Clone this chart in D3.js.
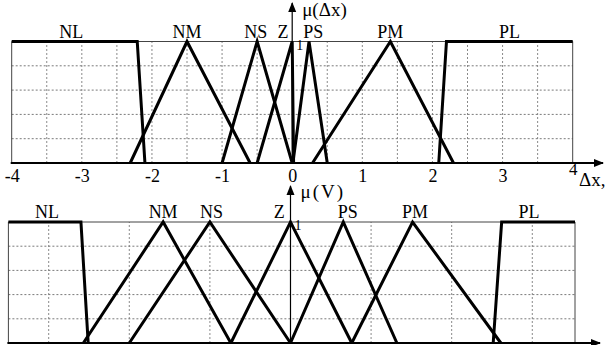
<!DOCTYPE html>
<html>
<head>
<meta charset="utf-8">
<script src="https://cdn.jsdelivr.net/npm/d3@7"></script>
<style>
  body { margin: 0; background: #fff; }
  svg text { font-family: "Times New Roman", "Liberation Serif", Tinos, "DejaVu Serif", "Noto Serif", FreeSerif, serif !important; fill: #000; }
</style>
</head>
<body>
<div id="chart"></div>
<script>
// term names (same for both variables)
var terms = ["NL", "NM", "NS", "Z", "PS", "PM", "PL"];

// membership functions of dx : [x, mu] corners
var dxSets = [
  [[-4, 1], [-2.21, 1], [-2.1, 0]],
  [[-2.31, 0], [-1.5, 1], [-0.6, 0]],
  [[-1.0, 0], [-0.5, 1], [0, 0]],
  [[-0.5, 0], [0, 1], [0.02, 0]],
  [[0.01, 0], [0.24, 1], [0.5, 0]],
  [[0.29, 0], [1.4, 1], [2.3, 0]],
  [[2.09, 0], [2.2, 1], [4, 1]]
];
// where each term name sits over the dx chart
var dxLabelAt = [-3.15, -1.5, -0.52, -0.13, 0.3, 1.4, 3.1];
var dxTicks = [-4, -3, -2, -1, 0, 1, 2, 3, 4];

// membership functions of V
var vSets = [
  [[-3.5, 1], [-2.6, 1], [-2.51, 0]],
  [[-2.57, 0], [-1.58, 1], [-0.74, 0]],
  [[-2.0, 0], [-1.0, 1], [0, 0]],
  [[-0.74, 0], [0, 1], [0.76, 0]],
  [[0, 0], [0.655, 1], [1.32, 0]],
  [[0.76, 0], [1.515, 1], [2.61, 0]],
  [[2.515, 0], [2.62, 1], [3.53, 1]]
];
var vLabelAt = [-3.02, -1.58, -0.98, -0.14, 0.71, 1.545, 2.96];

var svgWidth = 609;
var svgHeight = 345;
var serif = "'Times New Roman', 'Liberation Serif', Tinos, 'DejaVu Serif', serif";

var svg = d3.select("#chart")
  .append("svg")
  .attr("width", svgWidth)
  .attr("height", svgHeight)
  .attr("font-family", serif);

var defs = svg.append("defs");
defs.append("marker")
  .attr("id", "arrow")
  .attr("viewBox", "0 0 10 10")
  .attr("refX", 9).attr("refY", 5)
  .attr("markerWidth", 10).attr("markerHeight", 10)
  .attr("markerUnits", "userSpaceOnUse")
  .attr("orient", "auto")
  .append("path")
  .attr("d", "M0,1 L10,5 L0,9 Z")
  .attr("fill", "#000");

// draws one membership panel
function panel(opt) {
  var x = opt.x, y = opt.y;
  var g = svg.append("g");
  var x0 = x.range()[0], x1 = x.range()[1];

  // dotted grid
  g.append("g").selectAll("line")
    .data(opt.vgrid)
    .enter().append("line")
    .attr("x1", d => x(d)).attr("x2", d => x(d))
    .attr("y1", y(0)).attr("y2", y(1))
    .attr("stroke", "#8a8a8a").attr("stroke-width", 1)
    .attr("stroke-dasharray", "2,2");
  g.append("g").selectAll("line")
    .data([0.2, 0.4, 0.6, 0.8])
    .enter().append("line")
    .attr("x1", x0).attr("x2", x1)
    .attr("y1", d => y(d)).attr("y2", d => y(d))
    .attr("stroke", "#7a7a7a").attr("stroke-width", 1)
    .attr("stroke-dasharray", "2,2");

  // frame
  g.append("line").attr("x1", x0).attr("x2", x1).attr("y1", y(1)).attr("y2", y(1))
    .attr("stroke", "#444").attr("stroke-width", 1);
  g.append("line").attr("x1", x0).attr("x2", x0).attr("y1", y(1)).attr("y2", y(0))
    .attr("stroke", "#444").attr("stroke-width", 1);
  g.append("line").attr("x1", x1).attr("x2", x1).attr("y1", y(1)).attr("y2", y(0))
    .attr("stroke", "#444").attr("stroke-width", 1);

  // axes with arrows
  g.append("line").attr("x1", x0 - 1).attr("x2", opt.arrowX).attr("y1", y(0)).attr("y2", y(0))
    .attr("stroke", "#000").attr("stroke-width", 2).attr("marker-end", "url(#arrow)");
  g.append("line").attr("x1", x(0)).attr("x2", x(0)).attr("y1", y(0)).attr("y2", opt.arrowY)
    .attr("stroke", "#000").attr("stroke-width", 1.2).attr("marker-end", "url(#arrow)");

  // membership functions
  var line = d3.line().x(d => x(d[0])).y(d => y(d[1]));
  g.append("g").selectAll("path")
    .data(opt.sets)
    .enter().append("path")
    .attr("d", line)
    .attr("fill", "none")
    .attr("stroke", "#000")
    .attr("stroke-width", 3)
    .attr("stroke-linejoin", "miter");

  // term names
  g.append("g").selectAll("text")
    .data(terms)
    .enter().append("text")
    .attr("x", (d, i) => x(opt.labelAt[i]))
    .attr("y", y(1) - 4)
    .attr("text-anchor", "middle")
    .attr("font-size", "18px")
    .text(d => d);

  // "1" next to axis
  g.append("text")
    .attr("x", x(0) + 4).attr("y", y(1) + 8)
    .attr("font-size", "14px")
    .text("1");

  // axis title
  g.append("text")
    .attr("x", x(0) + 10).attr("y", opt.titleY)
    .attr("font-size", "19px")
    .attr("letter-spacing", opt.spacing)
    .text(opt.title);
  return g;
}

var xTop = d3.scaleLinear().domain([-4, 4]).range([11.7, 572.7]);
var yTop = d3.scaleLinear().domain([0, 1]).range([163, 41.5]);

panel({
  x: xTop, y: yTop, sets: dxSets, labelAt: dxLabelAt,
  vgrid: d3.range(-3.5, 4, 0.5).filter(d => d !== 0),
  arrowX: 603, arrowY: 3,
  title: "μ(Δx)", titleY: 16, spacing: "0px"
});

// dx tick labels
var bottomAxis = d3.axisBottom(xTop).tickValues(dxTicks).tickSize(0).tickPadding(6);
var axG = svg.append("g")
  .attr("transform", `translate(0, ${yTop(0)})`)
  .call(bottomAxis)
  .attr("font-family", serif);
axG.select(".domain").remove();
axG.selectAll("text")
  .attr("font-size", "18px")
  .attr("fill", "#000")
  .text(d => d < 0 ? "-" + Math.abs(d) : d);
axG.selectAll(".tick").filter(d => d === 4).select("text")
  .attr("dy", "0.35em")
  .attr("font-size", "17px");

svg.append("text")
  .attr("x", 579).attr("y", 186)
  .attr("font-size", "19px")
  .text("Δx,");

var xBot = d3.scaleLinear().domain([-3.5, 3.53]).range([8.4, 575]);
var yBot = d3.scaleLinear().domain([0, 1]).range([343, 222]);

panel({
  x: xBot, y: yBot, sets: vSets, labelAt: vLabelAt,
  vgrid: [-3, -2, -1, 1, 2, 3],
  arrowX: 600, arrowY: 186,
  title: "μ(V)", titleY: 198, spacing: "2px"
});
</script>
</body>
</html>
